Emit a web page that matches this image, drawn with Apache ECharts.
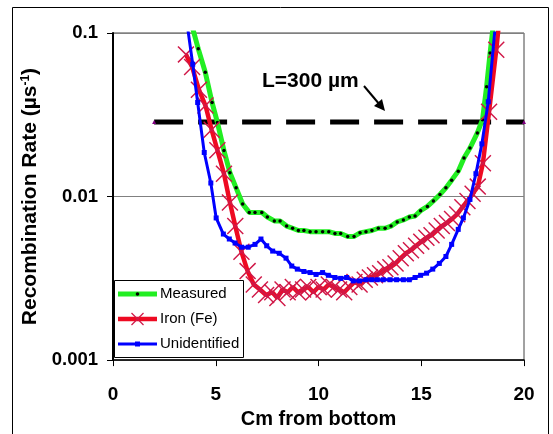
<!DOCTYPE html>
<html><head><meta charset="utf-8">
<script src="https://cdn.jsdelivr.net/npm/echarts@6/dist/echarts.min.js"></script>
<style>html,body{margin:0;padding:0;background:#fff}#c{width:553px;height:434px}</style>
</head><body><div id="c"></div>
<script>
// ---- data ----
const measuredX = [3.85,4.15,4.49,4.82,5.08,5.40,5.69,5.99,6.31,6.63,6.91,7.24,7.51,7.85,8.13,8.45,8.74,9.02,9.29,9.59,9.88,10.2,10.5,10.8,11.08,11.42,11.73,12.02,12.31,12.6,12.91,13.24,13.53,13.83,14.13,14.42,14.7,14.97,15.3,15.59,15.91,16.2,16.48,16.8,17.08,17.37,17.73,17.98,18.18,18.35,18.5];
const measuredY = [0.11,0.080,0.0575,0.0376,0.0284,0.0191,0.0140,0.0113,0.0090,0.0080,0.0080,0.0080,0.0075,0.0071,0.0071,0.0066,0.0064,0.0062,0.0062,0.0061,0.0061,0.0061,0.0061,0.00595,0.00595,0.0057,0.0057,0.0060,0.0061,0.0062,0.0064,0.0064,0.0066,0.0070,0.0072,0.0075,0.0076,0.0082,0.0087,0.0094,0.0103,0.0113,0.0126,0.0143,0.0172,0.0198,0.0245,0.0295,0.047,0.0755,0.11];

const ironX = [3.55,3.85,4.18,4.5,4.8,5.08,5.4,5.69,5.95,6.25,6.55,6.85,7.15,7.45,7.75,8.0,8.25,8.5,8.75,9.0,9.25,9.5,9.75,10.0,10.25,10.5,10.75,11.0,11.25,11.5,11.75,12.0,12.25,12.5,12.75,13.0,13.25,13.5,13.75,14.0,14.25,14.5,14.75,15.0,15.25,15.5,15.75,16.0,16.25,16.5,16.75,17.0,17.25,17.5,17.75,18.0,18.3,18.65,18.8];
const ironY = [0.074,0.062,0.045,0.036,0.0256,0.0192,0.0138,0.0092,0.0066,0.0046,0.0035,0.0029,0.0027,0.0025,0.0026,0.0024,0.0027,0.0026,0.0028,0.0026,0.0027,0.0028,0.0026,0.0028,0.0027,0.0029,0.0028,0.0027,0.0026,0.0028,0.0030,0.0029,0.0031,0.0032,0.0033,0.0034,0.0036,0.0037,0.0039,0.0042,0.0045,0.0047,0.0050,0.0053,0.0056,0.0058,0.0062,0.0066,0.0069,0.0073,0.0078,0.0086,0.0094,0.0104,0.0115,0.016,0.033,0.079,0.12];

const unidX = [3.6,3.88,4.12,4.44,4.76,5.02,5.37,5.66,5.94,6.26,6.58,6.91,7.2,7.48,7.77,8.09,8.42,8.7,8.97,9.29,9.59,9.88,10.2,10.48,10.8,11.08,11.37,11.69,11.99,12.31,12.59,12.86,13.15,13.48,13.8,14.13,14.42,14.7,14.97,15.26,15.56,15.88,16.2,16.48,16.8,17.05,17.37,17.66,17.95,18.26,18.6];
const unidY = [0.115,0.0644,0.0376,0.0186,0.0121,0.0074,0.0059,0.0055,0.0052,0.0049,0.0049,0.0051,0.0055,0.0050,0.00464,0.0045,0.0042,0.00376,0.0036,0.00348,0.00343,0.00334,0.00343,0.0033,0.0032,0.00316,0.0032,0.00305,0.00305,0.0031,0.0031,0.0031,0.0031,0.0031,0.0031,0.0031,0.0031,0.0032,0.0033,0.0034,0.0036,0.0039,0.0043,0.0051,0.0063,0.0074,0.0096,0.0138,0.021,0.038,0.11];

const limitX = [2, 20];
const limitY = [0.0286, 0.0286];

const xTicks = [0, 5, 10, 15, 20];
const yTicks = [0.001, 0.01, 0.1];
const seriesNames = ['Measured', 'Iron (Fe)', 'Unidentified'];

const zip = (a, b) => a.map((v, i) => [v, b[i]]);
const FONT = "'Liberation Sans', Arial, sans-serif";
const XMARK = 'path://M0,0.6L0.6,0L5,4.4L9.4,0L10,0.6L5.6,5L10,9.4L9.4,10L5,5.6L0.6,10L0,9.4L4.4,5Z';

// series styles
const GREEN = '#22ee22', RED = '#ee0a22', XRED = '#d01848', BLUE = '#0000ff';

// hand-drawn legend box (layout only)
const LG = {x: 114.5, y: 280.5, w: 129, h: 77, rowY: [294, 319, 344], lx1: 118, lx2: 157, tx: 160};
const legendGraphics = [
  {type: 'rect', shape: {x: LG.x, y: LG.y, width: LG.w, height: LG.h}, style: {fill: '#fff', stroke: '#000', lineWidth: 1}, z: 20},
  // Measured
  {type: 'line', shape: {x1: LG.lx1, y1: LG.rowY[0], x2: LG.lx2, y2: LG.rowY[0]}, style: {stroke: GREEN, lineWidth: 5}, z: 21},
  {type: 'circle', shape: {cx: (LG.lx1 + LG.lx2) / 2, cy: LG.rowY[0], r: 1.8}, style: {fill: '#000'}, z: 22},
  // Iron
  {type: 'line', shape: {x1: LG.lx1, y1: LG.rowY[1], x2: LG.lx2, y2: LG.rowY[1]}, style: {stroke: RED, lineWidth: 4.5}, z: 21},
  {type: 'line', shape: {x1: 131.5, y1: 313, x2: 143.5, y2: 325}, style: {stroke: XRED, lineWidth: 1.2}, z: 22},
  {type: 'line', shape: {x1: 143.5, y1: 313, x2: 131.5, y2: 325}, style: {stroke: XRED, lineWidth: 1.2}, z: 22},
  // Unidentified
  {type: 'line', shape: {x1: LG.lx1, y1: LG.rowY[2], x2: LG.lx2, y2: LG.rowY[2]}, style: {stroke: BLUE, lineWidth: 3}, z: 21},
  {type: 'rect', shape: {x: 135, y: LG.rowY[2] - 2.5, width: 5, height: 5}, style: {fill: BLUE}, z: 22}
].concat(seriesNames.map((n, i) => ({
  type: 'text', x: LG.tx, y: LG.rowY[i], z: 22,
  style: {text: n, font: "15px 'Liberation Sans', Arial, sans-serif", fill: '#000', verticalAlign: 'middle'}
})));

const chart = echarts.init(document.getElementById('c'), null, {renderer: 'canvas'});
chart.setOption({
  animation: false,
  backgroundColor: '#fff',
  grid: {left: 113, right: 29, top: 33, bottom: 73, show: true, borderColor: '#444', borderWidth: 1},
  xAxis: {
    type: 'value', min: xTicks[0], max: xTicks[xTicks.length - 1], interval: 5,
    name: 'Cm from bottom', nameLocation: 'middle', nameGap: 41,
    nameTextStyle: {fontFamily: FONT, fontWeight: 'bold', fontSize: 20, color: '#000'},
    axisLine: {lineStyle: {color: '#000', width: 1.5}},
    axisTick: {show: true, inside: false, length: 6, lineStyle: {color: '#000', width: 1}},
    axisLabel: {fontFamily: FONT, fontWeight: 'bold', fontSize: 19, color: '#000', margin: 25},
    splitLine: {show: false}
  },
  yAxis: {
    type: 'log', logBase: 10, min: yTicks[0], max: yTicks[yTicks.length - 1],
    name: 'Recombination Rate (µs{sup|-1})', nameLocation: 'middle', nameGap: 65,
    nameTextStyle: {fontFamily: FONT, fontWeight: 'bold', fontSize: 21, color: '#000',
      rich: {sup: {fontFamily: FONT, fontWeight: 'bold', fontSize: 12, color: '#000', verticalAlign: 'top', padding: [0, 0, 9, 0]}}},
    axisLine: {show: true, lineStyle: {color: '#000', width: 2}},
    axisTick: {show: true, inside: false, length: 6, lineStyle: {color: '#000', width: 1}},
    axisLabel: {fontFamily: FONT, fontWeight: 'bold', fontSize: 18.5, color: '#000', margin: 15,
      formatter: v => String(+(+v).toPrecision(1))},
    splitLine: {show: true, lineStyle: {color: '#808080', width: 1}},
    minorTick: {show: false}, minorSplitLine: {show: false}
  },
  legend: {show: false},
  graphic: [
    {type: 'rect', silent: true, shape: {x: 12.5, y: 7.5, width: 536, height: 440}, style: {fill: 'none', stroke: '#000', lineWidth: 1}, z: 0},
    {type: 'text', left: 262, top: 71, style: {text: 'L=300 µm', font: "bold 21px 'Liberation Sans', Arial, sans-serif", fill: '#000'}, z: 10},
    {type: 'line', shape: {x1: 364, y1: 86, x2: 380, y2: 105}, style: {stroke: '#000', lineWidth: 2}, z: 10},
    {type: 'polygon', shape: {points: [[385, 111], [374, 106], [382, 99]]}, style: {fill: '#000'}, z: 10}
  ].concat(legendGraphics),
  series: [
    {
      name: 'limit', type: 'line', data: zip(limitX, limitY), silent: true,
      symbol: 'triangle', symbolSize: 4, itemStyle: {color: '#800080'},
      lineStyle: {color: '#000', width: 5, type: [29, 15]}, z: 1
    },
    {
      name: seriesNames[0], type: 'line', data: zip(measuredX, measuredY),
      symbol: 'circle', symbolSize: 3.5, showAllSymbol: true,
      itemStyle: {color: '#000', borderWidth: 0},
      lineStyle: {color: GREEN, width: 5}, z: 3
    },
    {
      name: seriesNames[1], type: 'line', data: zip(ironX, ironY),
      symbol: XMARK, symbolSize: 17, showAllSymbol: true,
      itemStyle: {color: XRED, borderWidth: 0},
      lineStyle: {color: RED, width: 4.5}, z: 4
    },
    {
      name: seriesNames[2], type: 'line', data: zip(unidX, unidY),
      symbol: 'rect', symbolSize: 5, showAllSymbol: true,
      itemStyle: {color: BLUE, borderWidth: 0},
      lineStyle: {color: BLUE, width: 3}, z: 5
    }
  ]
});
</script></body></html>
